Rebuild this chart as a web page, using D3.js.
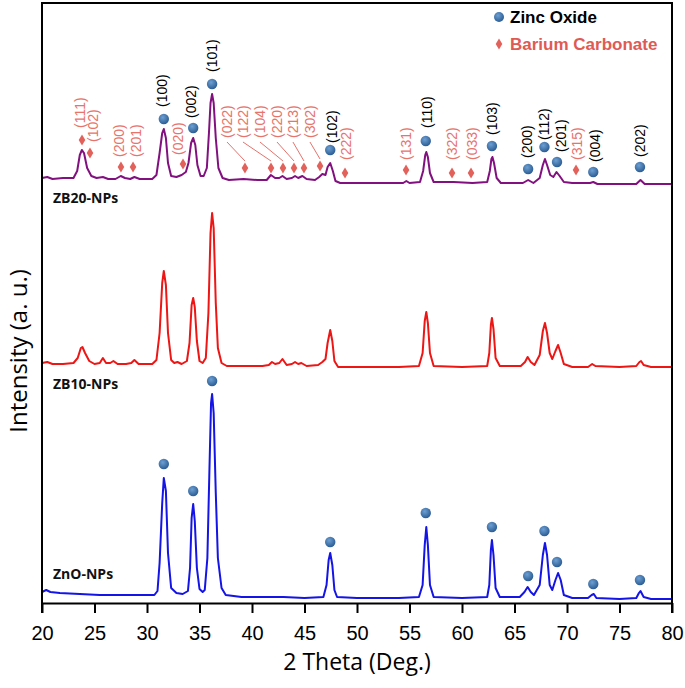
<!DOCTYPE html>
<html><head><meta charset="utf-8">
<script src="https://cdn.jsdelivr.net/npm/d3@7"></script>
<style>body{margin:0;background:#fff}svg{display:block}</style>
</head><body>
<svg id="c" width="685" height="688"></svg>
<script>
// ---- data (2θ in degrees, intensity in a.u. including vertical offset) ----
const xTicks = [20,25,30,35,40,45,50,55,60,65,70,75,80];
const seriesNames = ["ZnO-NPs","ZB10-NPs","ZB20-NPs"];
const seriesColors = ["#1414e6","#ee1515","#82117f"];

const zno = [[20.0,11],[20.4,13],[20.8,11],[21.7,10],[23.6,9],[25.5,8],[27.5,8],[29.5,8],[30.7,8],[31.0,12],[31.2,40],[31.45,100],[31.6,125],[31.8,112],[32.0,50],[32.3,15],[32.8,10],[33.4,9],[33.9,12],[34.1,35],[34.25,85],[34.4,99],[34.55,82],[34.75,35],[35.0,14],[35.3,11],[35.5,13],[35.75,45],[35.95,135],[36.1,200],[36.2,209],[36.35,190],[36.55,110],[36.75,45],[37.1,15],[37.5,8],[39,6],[41,6],[43,6],[45,5],[46.8,6],[47.1,18],[47.3,43],[47.45,50],[47.65,38],[47.85,13],[48.1,6],[50,5],[52,5],[54,5],[55.9,6],[56.25,18],[56.45,58],[56.6,76],[56.75,58],[56.95,18],[57.3,6],[60,5],[62.4,6],[62.6,18],[62.75,53],[62.85,63],[63.0,48],[63.2,15],[63.6,6],[65.5,6],[65.95,11],[66.25,16],[66.55,11],[66.85,8],[67.4,18],[67.7,48],[67.9,60],[68.1,48],[68.35,18],[68.6,13],[68.9,23],[69.15,30],[69.4,23],[69.7,8],[70.5,5],[72.0,5],[72.35,8],[72.55,9],[72.8,5],[75,4],[76.6,5],[76.85,10],[77.0,12],[77.3,6],[78,4],[80,4]];

const zb10 = [[20.0,240],[20.5,241],[21,239],[22,239],[23.0,240],[23.4,245],[23.7,255],[23.85,256],[24.1,250],[24.5,242],[25.0,239],[25.5,240],[25.8,245],[26.1,240],[26.5,240],[26.8,242],[27.2,239],[28.0,239],[28.5,240],[28.8,243],[29.2,239],[30.5,239],[30.9,243],[31.2,270],[31.45,320],[31.6,332],[31.8,318],[32.0,270],[32.3,243],[32.6,240],[32.9,241],[33.3,239],[33.8,242],[34.05,260],[34.25,298],[34.4,305],[34.55,296],[34.75,262],[35.0,242],[35.3,240],[35.6,245],[35.85,290],[36.05,370],[36.2,390],[36.35,375],[36.55,300],[36.75,255],[37.1,240],[37.6,237],[39,237],[41,237],[41.6,238],[41.9,241],[42.2,239],[42.6,240],[42.9,244],[43.3,238],[43.8,239],[44.1,241],[44.4,239],[44.7,240],[45.2,237],[46.3,238],[46.7,241],[47.0,244],[47.2,260],[47.45,273],[47.65,262],[47.85,242],[48.2,236],[50,236],[52,236],[54,236],[55.9,237],[56.25,250],[56.45,282],[56.6,291],[56.75,280],[56.95,250],[57.3,237],[60,236],[62.4,237],[62.6,250],[62.75,278],[62.85,285],[63.0,274],[63.2,245],[63.6,237],[65.6,237],[66.0,241],[66.25,246],[66.55,241],[66.9,238],[67.4,248],[67.7,272],[67.9,280],[68.1,270],[68.35,250],[68.6,244],[68.9,252],[69.15,258],[69.4,250],[69.7,239],[70.5,236],[72.0,236],[72.4,239],[72.7,237],[75,236],[76.6,237],[76.9,241],[77.05,242],[77.3,238],[78,236],[80,236]];

const zb20 = [[20.0,425],[20.5,426],[21,424],[22,425],[23.0,425],[23.35,432],[23.6,448],[23.8,453],[24.0,450],[24.3,435],[24.7,427],[25.2,425],[25.8,426],[26.3,424],[27.0,424],[27.5,427],[27.9,425],[28.4,424],[28.8,426],[29.3,424],[30.5,424],[30.9,428],[31.2,450],[31.45,470],[31.6,474],[31.8,465],[32.0,440],[32.3,427],[32.8,426],[33.3,428],[33.7,431],[33.95,440],[34.2,460],[34.4,465],[34.6,458],[34.8,438],[35.1,427],[35.4,427],[35.7,435],[35.9,470],[36.05,500],[36.2,509],[36.35,500],[36.55,465],[36.8,435],[37.2,425],[37.8,423],[39.2,424],[40.5,423],[41.4,423],[41.8,428],[42.2,425],[42.6,425],[42.9,427],[43.3,424],[43.8,425],[44.1,427],[44.4,425],[44.8,427],[45.2,424],[46.0,423],[46.4,426],[46.7,429],[47.0,428],[47.2,436],[47.45,440],[47.7,432],[47.95,422],[48.4,420],[50,420],[52,420],[54.4,420],[54.7,422],[55.0,420],[56.0,421],[56.3,432],[56.5,448],[56.6,451],[56.75,446],[56.95,430],[57.3,421],[59.2,421],[61,420],[62.4,421],[62.65,432],[62.8,444],[62.9,446],[63.05,440],[63.3,425],[63.7,420],[65.8,420],[66.3,423],[66.8,420],[67.4,425],[67.7,438],[67.9,444],[68.1,438],[68.4,428],[68.7,426],[69.0,431],[69.3,427],[69.7,421],[70.5,420],[72.2,420],[72.5,421],[72.9,419],[76.6,419],[77.0,423],[77.4,419],[80,419]];

// Zinc oxide peak markers
const znoDotsTop = [[31.6,484],[34.4,475],[36.2,519],[47.45,453],[56.55,462],[62.85,457],[66.3,434],[67.85,456],[69.05,441],[72.5,431],[76.95,436]];
const znoDotsBottom = [[31.6,139],[34.4,112],[36.2,222],[47.45,61],[56.55,90],[62.85,76],[66.3,27],[67.85,72],[69.05,41],[72.5,19],[76.95,23]];
// Zinc oxide hkl labels [2θ, intensity at text start, text]
const znoLabels = [[31.43,496,"(100)"],[34.19,485,"(002)"],[36.19,531,"(101)"],[47.62,460,"(102)"],[56.67,475,"(110)"],[62.86,468,"(103)"],[66.19,445,"(200)"],[67.81,463,"(112)"],[69.43,451,"(201)"],[72.67,441,"(004)"],[76.95,446,"(202)"]];
// Barium carbonate markers
const bacoDiamonds = [[23.81,463],[24.57,450],[27.52,436],[28.67,436],[33.43,439],[39.33,435],[41.81,435],[42.95,435],[44.0,435],[44.95,435],[46.48,437],[48.86,430],[54.67,433],[59.05,430],[60.86,430],[70.86,433]];
const bacoLabels = [[23.62,475,"(111)"],[24.86,461,"(102)"],[27.33,446,"(200)"],[28.95,446,"(201)"],[32.95,448,"(020)"],[37.62,465,"(022)"],[39.14,465,"(122)"],[40.76,465,"(104)"],[42.38,465,"(220)"],[43.9,465,"(213)"],[45.52,465,"(302)"],[48.95,443,"(222)"],[54.67,443,"(131)"],[59.05,443,"(322)"],[60.95,443,"(033)"],[70.95,443,"(315)"]];
// leader lines: label index -> diamond index
const leaders = [[5,5],[6,6],[7,7],[8,8],[9,9],[10,10]];
const legendItems = ["Zinc Oxide","Barium Carbonate"];

// ---- drawing ----
const svg = d3.select("#c");
const x = d3.scaleLinear().domain([20,80]).range([42,672]);
const y = d3.scaleLinear().domain([0,600]).range([603,3]);

const defs = svg.append("defs");
const g = defs.append("radialGradient").attr("id","ball").attr("cx","40%").attr("cy","35%").attr("r","65%");
g.append("stop").attr("offset","0%").attr("stop-color","#6d9fd3");
g.append("stop").attr("offset","100%").attr("stop-color","#2c5e95");

const line = d3.line().x(d=>x(d[0])).y(d=>y(d[1]));
[zno,zb10,zb20].forEach((s,i)=>{
  svg.append("path").datum(s).attr("d",line).attr("fill","none")
    .attr("stroke",seriesColors[i]).attr("stroke-width",2).attr("stroke-linejoin","round");
});

// frame
svg.append("path").attr("d",`M${x(20)},${y(0)+10}V${y(600)}H${x(80)}V${y(0)+10}`)
  .attr("fill","none").attr("stroke","#000").attr("stroke-width",2);

// x axis
const ax = svg.append("g").attr("transform",`translate(0,${y(0)})`)
  .call(d3.axisBottom(x).tickValues(xTicks).tickSize(10).tickSizeOuter(0).tickPadding(13).tickFormat(d3.format("d")));
ax.select(".domain").attr("stroke","#000").attr("stroke-width",2);
ax.selectAll(".tick line").attr("stroke","#000").attr("stroke-width",2);
ax.selectAll(".tick text").attr("font-family","'Liberation Sans', Arial, sans-serif").attr("font-size",20).attr("fill","#000");

svg.append("text").attr("x",357).attr("y",670).attr("text-anchor","middle")
  .attr("font-family","'Open Sans', sans-serif").attr("font-size",23).text("2 Theta (Deg.)");
svg.append("text").attr("transform","translate(27,351) rotate(-90)").attr("text-anchor","middle")
  .attr("font-family","'Open Sans', sans-serif").attr("font-size",24).text("Intensity (a. u.)");

// series labels
const labelBase = [579,389,203];
seriesNames.forEach((n,i)=>{
  svg.append("text").attr("x",53).attr("y",labelBase[i]).attr("font-family","'Open Sans', sans-serif")
    .attr("font-weight",700).attr("font-size",14).attr("fill","#111").text(n);
});

// markers
function dots(arr){
  svg.append("g").selectAll("circle").data(arr).join("circle")
    .attr("cx",d=>x(d[0])).attr("cy",d=>y(d[1])).attr("r",5.2).attr("fill","url(#ball)");
}
dots(znoDotsTop); dots(znoDotsBottom);

const diamond = "M0,-5.5L3.3,0L0,5.5L-3.3,0Z";
svg.append("g").selectAll("path").data(bacoDiamonds).join("path")
  .attr("d",diamond).attr("transform",d=>`translate(${x(d[0])},${y(d[1])})`).attr("fill","#e2625b");

svg.append("g").selectAll("line").data(leaders).join("line")
  .attr("x1",d=>x(bacoLabels[d[0]][0])).attr("y1",d=>y(bacoLabels[d[0]][1])+4)
  .attr("x2",d=>x(bacoDiamonds[d[1]][0])).attr("y2",d=>y(bacoDiamonds[d[1]][1])-7)
  .attr("stroke","#e2625b").attr("stroke-width",0.9);

function vlabels(arr,color){
  svg.append("g").selectAll("text").data(arr).join("text")
    .attr("transform",d=>`translate(${x(d[0])+5},${y(d[1])}) rotate(-90)`)
    .attr("font-family","'Liberation Sans', Arial, sans-serif").attr("font-size",14)
    .attr("fill",color).text(d=>d[2]);
}
vlabels(bacoLabels,"#e8736b");
vlabels(znoLabels,"#000");

// legend
svg.append("circle").attr("cx",499).attr("cy",17).attr("r",5).attr("fill","url(#ball)");
svg.append("path").attr("d",diamond).attr("transform","translate(499,44)").attr("fill","#e2625b");
svg.append("text").attr("x",510).attr("y",23).attr("font-family","'Liberation Sans', Arial, sans-serif")
  .attr("font-weight",700).attr("font-size",17).attr("fill","#000").text(legendItems[0]);
svg.append("text").attr("x",510).attr("y",50).attr("font-family","'Liberation Sans', Arial, sans-serif")
  .attr("font-weight",700).attr("font-size",17).attr("fill","#e05a54").text(legendItems[1]);
</script>
</body></html>
